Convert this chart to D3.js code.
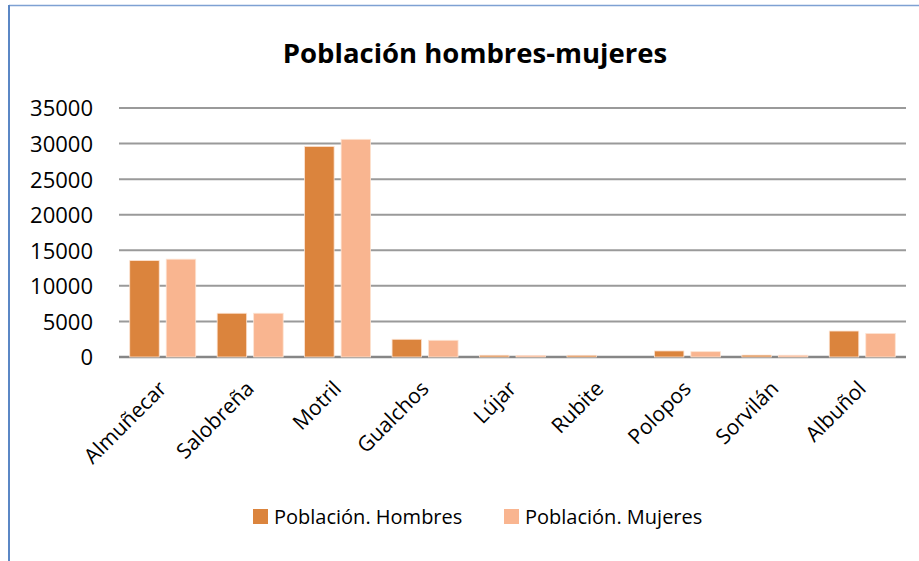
<!DOCTYPE html>
<html>
<head>
<meta charset="utf-8">
<script src="https://cdn.jsdelivr.net/npm/d3@7"></script>
<style>
  body { margin: 0; background: #fff; }
  svg { display: block; font-family: "Open Sans", sans-serif; }
</style>
</head>
<body>
<div id="chart"></div>
<script>
const municipios = ["Almuñecar", "Salobreña", "Motril", "Gualchos", "Lújar", "Rubite", "Polopos", "Sorvilán", "Albuñol"];
const hombres = [13550, 6150, 29600, 2490, 250, 240, 850, 270, 3650];
const mujeres = [13750, 6150, 30600, 2350, 230, 0, 750, 250, 3300];
const seriesNames = ["Población. Hombres", "Población. Mujeres"];
const seriesColors = ["#db843d", "#f9b590"];
const yTicks = [0, 5000, 10000, 15000, 20000, 25000, 30000, 35000];

const width = 919, height = 561;
const plotLeft = 119, plotRight = 906, plotTop = 108, plotBottom = 357;

const svg = d3.select("#chart")
    .append("svg")
        .attr("width", width)
        .attr("height", height);

// frame lines at top and left, like the original screenshot
svg.append("line")
    .attr("x1", 9).attr("x2", width).attr("y1", 5.5).attr("y2", 5.5)
    .attr("stroke", "#7ea1d3").attr("stroke-width", 1.5);
svg.append("line")
    .attr("x1", 9).attr("x2", 9).attr("y1", 5).attr("y2", height)
    .attr("stroke", "#5b87c5").attr("stroke-width", 2);

const x = d3.scaleBand()
    .domain(municipios)
    .range([plotLeft, plotRight]);

const y = d3.scaleLinear()
    .domain([0, 35000])
    .range([plotBottom, plotTop]);

// gridlines
svg.append("g")
    .selectAll("line")
    .data(yTicks)
    .enter()
    .append("line")
        .attr("x1", plotLeft)
        .attr("x2", plotRight)
        .attr("y1", d => y(d))
        .attr("y2", d => y(d))
        .attr("stroke", d => d === 0 ? "#868686" : "#9a9a9a")
        .attr("stroke-width", d => d === 0 ? 2.5 : 2);

const yAxis = svg.append("g")
    .attr("transform", `translate(${plotLeft - 26},0)`)
    .call(d3.axisLeft(y).tickValues(yTicks).tickSize(0).tickFormat(d3.format("d")));
yAxis.select(".domain").remove();
yAxis.selectAll("text")
    .attr("x", 0)
    .attr("dy", "0.36em")
    .attr("font-size", 22)
    .attr("font-family", "Open Sans, sans-serif")
    .attr("fill", "#000");

const barW = 29.5, innerGap = 7;
const groupOffset = (x.bandwidth() - (2 * barW + innerGap)) / 2;
const table = municipios.map((m, i) => ({ m, vals: [hombres[i], mujeres[i]] }));

const groups = svg.append("g")
    .selectAll("g")
    .data(table)
    .enter()
    .append("g")
        .attr("transform", d => `translate(${x(d.m) + groupOffset},0)`);

groups.selectAll("rect")
    .data(d => d.vals)
    .enter()
    .append("rect")
        .attr("x", (v, j) => j * (barW + innerGap))
        .attr("y", v => y(v))
        .attr("width", barW)
        .attr("height", v => plotBottom - y(v))
        .attr("fill", (v, j) => seriesColors[j])
        .attr("stroke", "#fde3d2")
        .attr("stroke-width", 0.8);

// category labels, rotated
svg.append("g")
    .selectAll("text")
    .data(municipios)
    .enter()
    .append("text")
        .attr("transform", d => `translate(${x(d) + x.bandwidth() / 2 + 5},${plotBottom + 33}) rotate(-45)`)
        .attr("text-anchor", "end")
        .attr("font-size", 21)
        .attr("fill", "#000")
        .text(d => d);

svg.append("text")
    .attr("x", 475)
    .attr("y", 63)
    .attr("text-anchor", "middle")
    .attr("font-size", 27.5)
    .attr("font-weight", "bold")
    .attr("fill", "#000")
    .text("Población hombres-mujeres");

// legend
const legendX = [253, 504];
const legend = svg.append("g")
    .selectAll("g")
    .data(seriesNames)
    .enter()
    .append("g")
        .attr("transform", (d, i) => `translate(${legendX[i]},509)`);
legend.append("rect")
    .attr("width", 15)
    .attr("height", 15)
    .attr("fill", (d, i) => seriesColors[i]);
legend.append("text")
    .attr("x", 21)
    .attr("y", 15)
    .attr("font-size", 20)
    .attr("fill", "#000")
    .text(d => d);
</script>
</body>
</html>
